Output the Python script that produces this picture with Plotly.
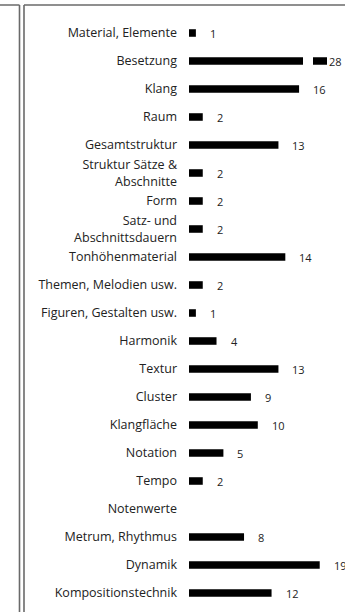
import plotly.graph_objects as go

# Topics and number of mentions per topic
categories = [
    "Material, Elemente", "Besetzung", "Klang", "Raum", "Gesamtstruktur",
    "Struktur Sätze &<br>Abschnitte", "Form", "Satz- und<br>Abschnittsdauern",
    "Tonhöhenmaterial", "Themen, Melodien usw.", "Figuren, Gestalten usw.",
    "Harmonik", "Textur", "Cluster", "Klangfläche", "Notation", "Tempo",
    "Notenwerte", "Metrum, Rhythmus", "Dynamik", "Kompositionstechnik",
]
counts = [1, 28, 16, 2, 13, 2, 2, 2, 14, 2, 1, 4, 13, 9, 10, 5, 2, None, 8, 19, 12]

# The one bar that runs off the scale is drawn on its own compressed axis
# and shown with a break.
broken_topic = "Besetzung"

W, H = 345, 612
FONT = "Open Sans"
TXT = "#222222"
FRAME = "#6a6a6a"

idx = list(range(len(categories)))
bi = categories.index(broken_topic)

main_x = [None if i == bi else v for i, v in enumerate(counts)]
brk_x = [counts[i] if i == bi else None for i in idx]

fig = go.Figure()
fig.add_trace(go.Bar(
    x=main_x, y=idx, orientation="h", width=0.27,
    marker=dict(color="#000000", line=dict(width=0)),
    xaxis="x", yaxis="y", hoverinfo="skip",
))
fig.add_trace(go.Bar(
    x=brk_x, y=idx, orientation="h", width=0.27,
    marker=dict(color="#000000", line=dict(width=0)),
    xaxis="x2", yaxis="y", hoverinfo="skip",
))

# value labels
annotations = []
for i, v in enumerate(counts):
    if v is None:
        continue
    if i == bi:
        annotations.append(dict(x=v, y=i, xref="x2", yref="y", text=str(v),
                                showarrow=False, xanchor="left", xshift=0,
                                font=dict(family=FONT, size=11, color=TXT)))
    else:
        annotations.append(dict(x=v, y=i, xref="x", yref="y", text=str(v),
                                showarrow=False, xanchor="left", xshift=12,
                                font=dict(family=FONT, size=11, color=TXT)))

x_left = 189 / W
main_range = [0, (W - 189) / 6.88]
brk_range = [0, 28 * (W - 189) / 138]

shapes = [
    # break in the long bar
    dict(type="rect", xref="paper", yref="y", x0=303 / W, x1=313 / W,
         y0=bi - 0.3, y1=bi + 0.3, fillcolor="#ffffff", line=dict(width=0),
         layer="above"),
    # frame of this panel
    dict(type="line", xref="paper", yref="paper", x0=24 / W, x1=24 / W,
         y0=1 - 5 / H, y1=-0.05, line=dict(color=FRAME, width=1.6)),
    dict(type="line", xref="paper", yref="paper", x0=24 / W, x1=1.05,
         y0=1 - 5 / H, y1=1 - 5 / H, line=dict(color=FRAME, width=1.6)),
    # edge of the neighbouring panel
    dict(type="line", xref="paper", yref="paper", x0=19.5 / W, x1=19.5 / W,
         y0=1 - 5 / H, y1=-0.05, line=dict(color=FRAME, width=1.6)),
    dict(type="line", xref="paper", yref="paper", x0=-0.05, x1=19.5 / W,
         y0=1 - 5 / H, y1=1 - 5 / H, line=dict(color=FRAME, width=1.6)),
]

fig.update_layout(
    width=W, height=H,
    margin=dict(l=0, r=0, t=0, b=0),
    paper_bgcolor="#ffffff", plot_bgcolor="#ffffff",
    showlegend=False, barmode="overlay",
    xaxis=dict(domain=[x_left, 1], range=main_range, visible=False, fixedrange=True),
    xaxis2=dict(domain=[x_left, 1], range=brk_range, visible=False,
                overlaying="x", fixedrange=True),
    yaxis=dict(
        domain=[(H - 607) / H, (H - 19) / H],
        range=[len(categories) - 0.5, -0.5],
        tickmode="array", tickvals=idx, ticktext=categories,
        showgrid=False, zeroline=False, showline=False, ticks="",
        ticklabelstandoff=11,
        tickfont=dict(family=FONT, size=12.5, color=TXT),
        fixedrange=True,
    ),
    shapes=shapes,
    annotations=annotations,
)

fig.write_html("out.html")
